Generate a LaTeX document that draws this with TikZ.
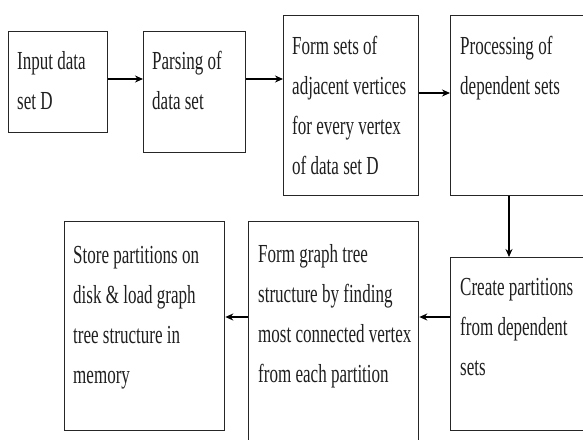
\documentclass[tikz,border=0pt]{standalone}
\usepackage{fontspec}
\setmainfont[FakeStretch=0.655]{Liberation Serif}
\usetikzlibrary{arrows.meta}
\begin{document}
\begin{tikzpicture}[x=1pt,y=-1pt,
  box/.style={draw=black!85, line width=1.3pt, rectangle, inner sep=0pt, anchor=north west},
  txt/.style={anchor=base west, inner sep=0pt, text=black!88,
    font=\fontsize{26}{40}\selectfont},
  arr/.style={draw=black, line width=1.3pt, -{Stealth[length=8pt,width=7pt]}}]
\useasboundingbox (0,0) rectangle (583,439);
\clip (0,0) rectangle (583,439);
\fill[white] (0,0) rectangle (583,439);
% boxes
\node[box, minimum width=99pt,  minimum height=101pt] (b1) at (8,31) {};
\node[box, minimum width=102pt, minimum height=121pt] (b2) at (143,31) {};
\node[box, minimum width=135pt, minimum height=180pt] (b3) at (283,15) {};
\node[box, minimum width=160pt, minimum height=180pt] (b4) at (450,15) {};
\node[box, minimum width=160pt, minimum height=173pt] (b5) at (450,257) {};
\node[box, minimum width=170pt, minimum height=250pt] (b6) at (248,221) {};
\node[box, minimum width=160pt, minimum height=209pt] (b7) at (64,221) {};
% texts
\node[txt] (t1) at (17,69) {\parbox[t]{120pt}{\raggedright Input data\\set D}};
\node[txt] (t2) at (152,69) {\parbox[t]{120pt}{\raggedright Parsing of\\data set}};
\node[txt] (t3) at (292,54) {\parbox[t]{150pt}{\raggedright Form sets of\\adjacent vertices\\for every vertex\\of data set D}};
\node[txt] (t4) at (460,54) {\parbox[t]{150pt}{\raggedright Processing of\\dependent sets}};
\node[txt] (t5) at (460,295) {\parbox[t]{150pt}{\raggedright Create partitions\\from dependent\\sets}};
\node[txt] (t6) at (258,262) {\parbox[t]{170pt}{\raggedright Form graph tree\\structure by finding\\most connected vertex\\from each partition}};
\node[txt] (t7) at (73,263) {\parbox[t]{170pt}{\raggedright Store partitions on\\disk \& load graph\\tree structure in\\memory}};
% connectors
\coordinate (r1) at (0,79);
\coordinate (r2) at (0,93);
\coordinate (r3) at (0,317);
\coordinate (c1) at (509,0);
\draw[arr] (b1.east |- r1) -- (b2.west |- r1);
\draw[arr] (b2.east |- r1) -- (b3.west |- r1);
\draw[arr] (b3.east |- r2) -- (b4.west |- r2);
\draw[arr] (c1 |- b4.south) -- (c1 |- b5.north);
\draw[arr] (b5.west |- r3) -- (b6.east |- r3);
\draw[arr] (b6.west |- r3) -- (b7.east |- r3);
\end{tikzpicture}
\end{document}
